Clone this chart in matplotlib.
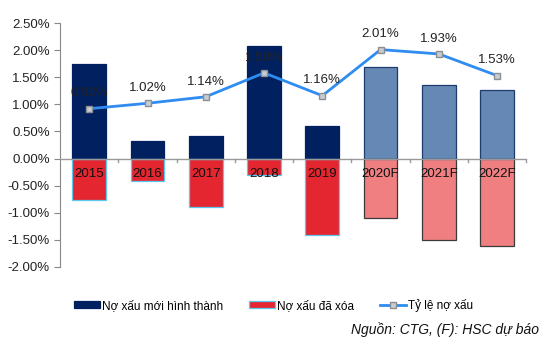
import numpy as np
import matplotlib
matplotlib.use("Agg")
import matplotlib.pyplot as plt
from matplotlib.ticker import FuncFormatter

plt.rcParams['font.family'] = ['Liberation Sans', 'DejaVu Sans']

years = ["2015", "2016", "2017", "2018", "2019", "2020F", "2021F", "2022F"]
new_npl = [1.74, 0.32, 0.41, 2.07, 0.60, 1.69, 1.35, 1.27]
written_off = [-0.76, -0.42, -0.89, -0.30, -1.41, -1.10, -1.50, -1.61]
npl_ratio = [0.92, 1.02, 1.14, 1.58, 1.16, 2.01, 1.93, 1.53]
n_actual = 5  # nam thuc te, con lai la du bao


def pct(v, pos):
    return "{:.2f}%".format(v)


x = np.arange(len(years))
w = 0.58

fig = plt.figure(figsize=(5.47, 3.49), dpi=100)
ax = fig.add_axes([0.11, 0.235, 0.852, 0.699])

blue_face = ['#002060'] * n_actual + ['#6688b4'] * (len(years) - n_actual)
blue_edge = ['#002060'] * n_actual + ['#1f3a6e'] * (len(years) - n_actual)
red_face = ['#e3262f'] * n_actual + ['#f07f82'] * (len(years) - n_actual)
red_edge = ['#5cc8f0'] * n_actual + ['#3a3a3a'] * (len(years) - n_actual)

b1 = ax.bar(x, new_npl, w, color=blue_face, edgecolor=blue_edge, linewidth=0.9,
            label='Nợ xấu mới hình thành', zorder=2)
b2 = ax.bar(x, written_off, w, color=red_face, edgecolor=red_edge, linewidth=0.9,
            label='Nợ xấu đã xóa', zorder=2)
l1, = ax.plot(x, npl_ratio, color='#2f8cf0', linewidth=2, marker='s', markersize=5,
              markerfacecolor='#c9ccd0', markeredgecolor='#8a8f96', markeredgewidth=1,
              label='Tỷ lệ nợ xấu', zorder=4)

for i, v in enumerate(npl_ratio):
    ax.text(x[i], v + 0.17, "{:.2f}%".format(v), ha='center', va='bottom',
            fontsize=9.5, color='#222222', zorder=5)
for i, yr in enumerate(years):
    ax.text(x[i], -0.28, yr, ha='center', va='center', fontsize=9.5,
            color='#111111', zorder=5)

ax.set_xlim(-0.5, len(years) - 0.5)
ax.set_ylim(-2.0, 2.5)
ax.set_yticks(np.arange(-2.0, 2.51, 0.5))
ax.yaxis.set_major_formatter(FuncFormatter(pct))
ax.tick_params(axis='y', labelsize=9.5, length=4, color='#888888', labelcolor='#222222')
ax.set_xticks([])

for s in ['top', 'right', 'bottom']:
    ax.spines[s].set_visible(False)
ax.spines['left'].set_color('#888888')
ax.axhline(0, color='#999999', linewidth=1, zorder=3)
for b in np.arange(0.5, len(years), 1.0):
    ax.plot([b, b], [0, -0.07], color='#999999', linewidth=1, zorder=3, clip_on=False)

leg = fig.legend([b1, b2, l1], ['Nợ xấu mới hình thành', 'Nợ xấu đã xóa', 'Tỷ lệ nợ xấu'],
                 loc='center', bbox_to_anchor=(0.5, 0.125), ncol=3, frameon=False,
                 fontsize=8.5, handlelength=2.2, handleheight=0.45,
                 columnspacing=2.2, handletextpad=0.15)
# mau chu thich cho cot do: vien xanh nhat
leg.legend_handles[1].set_facecolor('#e3262f')
leg.legend_handles[1].set_edgecolor('#5cc8f0')
fig.text(0.985, 0.055, "Nguồn: CTG, (F): HSC dự báo", ha='right', va='center',
         fontsize=10, style='italic', color='#111111')

fig.savefig("out.png", dpi=100)
